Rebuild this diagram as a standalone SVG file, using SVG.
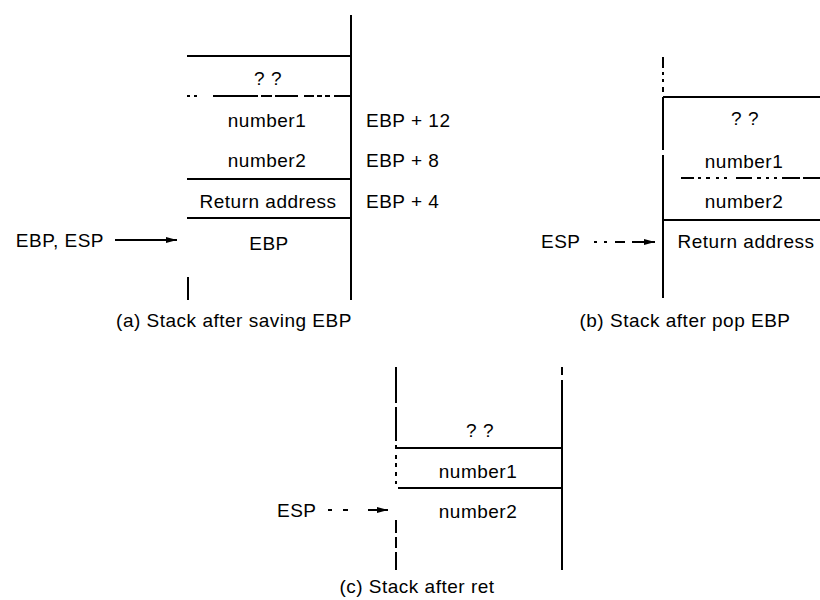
<svg xmlns="http://www.w3.org/2000/svg" width="820" height="600" viewBox="0 0 820 600">
<style>
.t{font-family:"Liberation Sans",Arial,sans-serif;font-size:19px;letter-spacing:0.5px;fill:#000}
.m{text-anchor:middle}
.e{text-anchor:end}
.l{stroke:#000;stroke-width:2;fill:none}
</style>
<defs>
<marker id="ah" markerWidth="12" markerHeight="8" refX="11" refY="4" orient="auto" markerUnits="userSpaceOnUse">
<path d="M0,1 L11,4 L0,7 Z" fill="#000"/>
</marker>
</defs>
<rect width="820" height="600" fill="#fff"/>

<g id="stack-a">
<path class="l" d="M351,15 V300 M187,56 H351 M187,179 H351 M187,218 H351 M188,277 V300"/>
<path class="l" d="M187,96 H190 M194,96 H197 M213,96 H258 M261,96 H272 M275,96 H298 M304,96 H314 M317,96 H322 M325,96 H330 M334,96 H351"/>
<text class="t m" x="268" y="85">? ?</text>
<text class="t m" x="267" y="127">number1</text>
<text class="t m" x="267" y="167">number2</text>
<text class="t m" x="268" y="208">Return address</text>
<text class="t m" x="269" y="250">EBP</text>
<text class="t" x="366" y="127">EBP + 12</text>
<text class="t" x="366" y="167">EBP + 8</text>
<text class="t" x="366" y="208">EBP + 4</text>
<text class="t e" x="104" y="247">EBP, ESP</text>
<text class="t m" x="234" y="327">(a) Stack after saving EBP</text>
</g>

<g id="stack-b">
<path class="l" d="M663,57 V68 M663,72 V75 M663,79 V82 M663,87 V92 M663,97 V150 M663,155 V298 M663,97 H820 M663,220 H820"/>
<path class="l" d="M681,178 H694 M698,178 H701 M706,178 H710 M716,178 H719 M724,178 H727 M736,178 H752 M757,178 H761 M766,178 H769 M774,178 H777 M782,178 H800 M803,178 H820"/>
<text class="t m" x="745" y="125">? ?</text>
<text class="t m" x="744" y="168">number1</text>
<text class="t m" x="744" y="208">number2</text>
<text class="t m" x="746" y="248">Return address</text>
<text class="t" x="541" y="248">ESP</text>
<text class="t m" x="685" y="327">(b) Stack after pop EBP</text>
</g>

<g id="stack-c">
<path class="l" d="M396,367 V403 M396,407 V441 M396,445 V449 M396,455 V459 M396,463 V467 M396,472 V476 M396,481 V484 M396,520 V533 M396,537 V548 M396,552 V570"/>
<path class="l" d="M562,367 V375 M562,380 V570 M396,448 H562 M398,488 H562"/>
<text class="t m" x="480" y="437">? ?</text>
<text class="t m" x="478" y="478">number1</text>
<text class="t m" x="478" y="518">number2</text>
<text class="t" x="277" y="517">ESP</text>
<text class="t m" x="417" y="593">(c) Stack after ret</text>
</g>

<g id="connectors">
<path class="l" d="M115,240 H177" marker-end="url(#ah)"/>
<path class="l" d="M594,242 H597 M604,242 H607 M615,242 H625 M632,242 H655" marker-end="url(#ah)"/>
<path class="l" d="M328,510 H332 M343,510 H348 M368,510 H388" marker-end="url(#ah)"/>
</g>
</svg>
